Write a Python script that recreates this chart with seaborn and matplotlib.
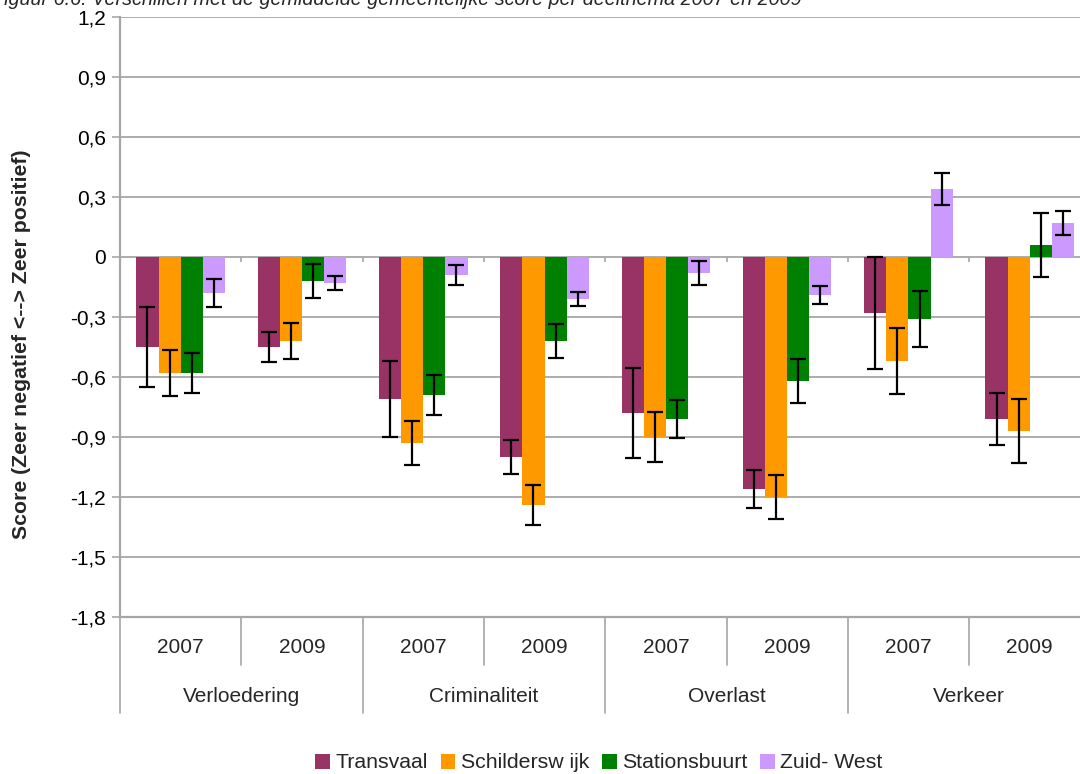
import numpy as np
import pandas as pd
import matplotlib
matplotlib.use("Agg")
import matplotlib.pyplot as plt
import seaborn as sns
from matplotlib.lines import Line2D
from matplotlib.patches import Patch

# ---------------- data ----------------
themes = ["Verloedering", "Criminaliteit", "Overlast", "Verkeer"]
years = ["2007", "2009"]
wijken = ["Transvaal", "Schildersw ijk", "Stationsbuurt", "Zuid- West"]
colors = ["#993366", "#FF9900", "#008000", "#CC99FF"]

transvaal = [-0.45, -0.45, -0.71, -1.00, -0.78, -1.16, -0.28, -0.81]
transvaal_err = [0.20, 0.075, 0.19, 0.085, 0.225, 0.095, 0.28, 0.13]
schilderswijk = [-0.58, -0.42, -0.93, -1.24, -0.90, -1.20, -0.52, -0.87]
schilderswijk_err = [0.115, 0.09, 0.11, 0.10, 0.125, 0.11, 0.165, 0.16]
stationsbuurt = [-0.58, -0.12, -0.69, -0.42, -0.81, -0.62, -0.31, 0.06]
stationsbuurt_err = [0.10, 0.083, 0.10, 0.085, 0.095, 0.11, 0.14, 0.16]
zuidwest = [-0.18, -0.13, -0.09, -0.21, -0.08, -0.19, 0.34, 0.17]
zuidwest_err = [0.07, 0.037, 0.05, 0.037, 0.06, 0.045, 0.08, 0.06]

yticks = [-1.8, -1.5, -1.2, -0.9, -0.6, -0.3, 0.0, 0.3, 0.6, 0.9, 1.2]
ytick_labels = ["-1,8", "-1,5", "-1,2", "-0,9", "-0,6", "-0,3", "0",
                "0,3", "0,6", "0,9", "1,2"]
title = "Figuur 6.6: Verschillen met de gemiddelde gemeentelijke score per deelthema 2007 en 2009"
ylabel = "Score (Zeer negatief <--> Zeer positief)"

# ---------------- build table ----------------
cats = [f"{t} {y}" for t in themes for y in years]
series = [transvaal, schilderswijk, stationsbuurt, zuidwest]
errs = [transvaal_err, schilderswijk_err, stationsbuurt_err, zuidwest_err]
rows = []
for w, vals, es in zip(wijken, series, errs):
    for c, v, e in zip(cats, vals, es):
        rows.append({"cat": c, "wijk": w, "value": v, "err": e})
df = pd.DataFrame(rows)

# ---------------- style ----------------
sns.set_style("white")
plt.rcParams["font.family"] = ["Liberation Sans", "DejaVu Sans"]

W, H = 1080, 774
fig = plt.figure(figsize=(W / 100, H / 100), dpi=100)
left_px, right_px, top_px, bottom_px = 120, 120 + 8 * 121.3, 17, 617
ax = fig.add_axes([left_px / W, (H - bottom_px) / H,
                   (right_px - left_px) / W, (bottom_px - top_px) / H])

grid_col = "#a6a6a6"

sns.barplot(data=df, x="cat", y="value", hue="wijk", order=cats,
            hue_order=wijken, palette=colors, width=0.73, gap=0,
            errorbar=None, saturation=1, legend=False, linewidth=0, ax=ax)

# error bars
for cont, w in zip(ax.containers, wijken):
    sub = df[df["wijk"] == w].set_index("cat").loc[cats]
    xs = [b.get_x() + b.get_width() / 2 for b in cont]
    ax.errorbar(xs, sub["value"].values, yerr=sub["err"].values, fmt="none",
                ecolor="black", elinewidth=1.6, capsize=5.5, capthick=1.6,
                zorder=5)

ax.set_xlim(-0.5, 7.5)
ax.set_ylim(-1.8, 1.2)
ax.set_yticks(yticks)
ax.set_yticklabels(ytick_labels, fontsize=15)
ax.yaxis.grid(True, color=grid_col, linewidth=1.3)
ax.set_axisbelow(True)
ax.tick_params(axis="y", length=6, width=1.2, color=grid_col, pad=4,
               left=True, labelcolor="black")
ax.set_xticks([])
ax.set_xlabel("")
ax.set_ylabel("")
for s in ["top", "right"]:
    ax.spines[s].set_visible(False)
for s in ["left", "bottom"]:
    ax.spines[s].set_color(grid_col)
    ax.spines[s].set_linewidth(1.6)

# small ticks on the zero line at category boundaries
bounds = np.arange(0.5, len(cats), 1.0)
ax.vlines(bounds, -0.025, 0, color=grid_col, linewidth=1.2, zorder=1)

# hierarchical x labels
trans = ax.get_xaxis_transform()
ax_h = bottom_px - top_px
for i, c in enumerate(cats):
    ax.text(i, -30.7 / ax_h, c.split(" ")[1], transform=trans, ha="center",
            va="center", fontsize=15)
for j, t in enumerate(themes):
    ax.text(2 * j + 0.5, -79.7 / ax_h, t, transform=trans, ha="center",
            va="center", fontsize=15)
for j in range(len(themes)):
    ax.add_line(Line2D([2 * j + 0.5] * 2, [0, -48 / ax_h], transform=trans,
                       color=grid_col, linewidth=1.2, clip_on=False))
for j in range(len(themes) + 1):
    ax.add_line(Line2D([2 * j - 0.5] * 2, [0, -96 / ax_h], transform=trans,
                       color=grid_col, linewidth=1.2, clip_on=False))

# y label
fig.text(22 / W, 1 - 344 / H, ylabel, rotation=90, ha="center", va="center",
         fontsize=15.3, fontweight="bold")

# clipped title (the reference shows only its lower part)
fig.text(-8 / W, 1 - 5 / H, title, ha="left", va="baseline", fontsize=14.2,
         style="italic")

# legend
handles = [Patch(facecolor=c, edgecolor="none", label=w)
           for c, w in zip(colors, wijken)]
fig.legend(handles=handles, loc="center", bbox_to_anchor=(599 / W, 1 - 763 / H),
           ncol=4, frameon=False, fontsize=15.3, handlelength=0.7,
           handleheight=0.7, handletextpad=0.25, columnspacing=0.6,
           borderaxespad=0, borderpad=0)

fig.savefig("out.png", dpi=100)
